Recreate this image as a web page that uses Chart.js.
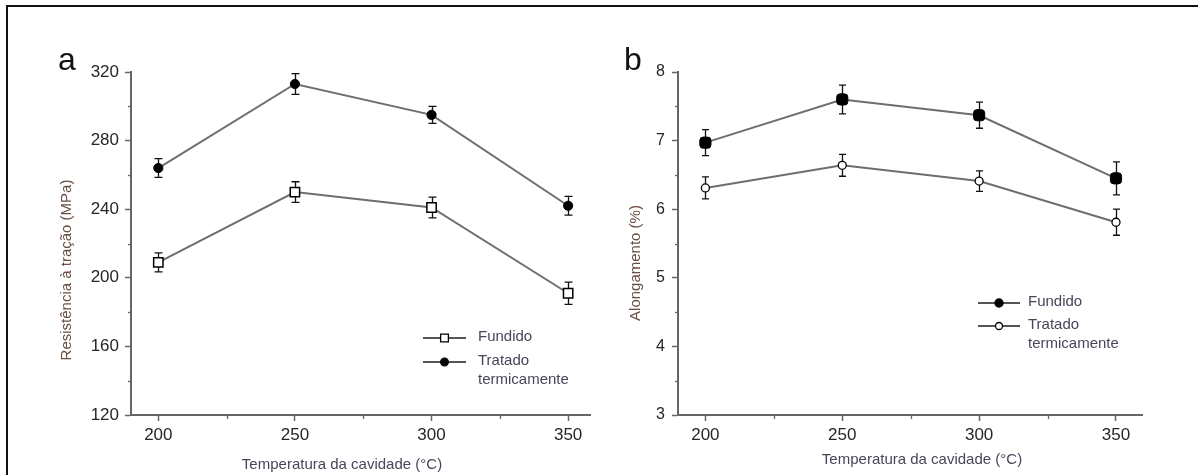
<!DOCTYPE html>
<html><head><meta charset="utf-8">
<script src="https://cdn.jsdelivr.net/npm/chart.js@4.4.1/dist/chart.umd.min.js"></script>
<style>
html,body{margin:0;padding:0;background:#fff;}
#wrap{position:relative;width:1198px;height:475px;overflow:hidden;background:#fff;}
#ca{position:absolute;left:0;top:0;}
#cb{position:absolute;left:599px;top:0;}
#frame{position:absolute;left:6px;top:5px;width:1200px;height:500px;border-top:2px solid #111;border-left:2px solid #111;pointer-events:none;}
</style></head><body>
<div id="wrap"><canvas id="ca" width="599" height="475"></canvas><canvas id="cb" width="599" height="475"></canvas><div id="frame"></div></div>
<script>
// ---- data ----
const temps = [200, 250, 300, 350];
const xTickValues = [200, 250, 300, 350];
const xMinorValues = [225, 275, 325];

const aFundido = [209, 250, 241, 191];
const aFundidoErr = [5.5, 6, 6, 6.5];
const aTratado = [264, 313, 295, 242];
const aTratadoErr = [5.5, 6, 5, 5.5];
const aYTicks = [120, 160, 200, 240, 280, 320];
const aYMinor = [140, 180, 220, 260, 300];

const bFundido = [6.97, 7.6, 7.37, 6.45];
const bFundidoErr = [0.19, 0.21, 0.19, 0.24];
const bTratado = [6.31, 6.64, 6.41, 5.81];
const bTratadoErr = [0.16, 0.16, 0.15, 0.19];
const bYTicks = [3, 4, 5, 6, 7, 8];
const bYMinor = [3.5, 4.5, 5.5, 6.5, 7.5];

const xTitle = 'Temperatura da cavidade (°C)';
const aYTitle = 'Resistência à tração (MPa)';
const bYTitle = 'Alongamento (%)';
const seriesNames = ['Fundido', 'Tratado', 'termicamente'];

const FONT = "'Liberation Sans', Arial, sans-serif";
const LINE = '#6e6e6e';
const AXIS = '#666';
const TXT = '#262626';

function pts(vals){ return temps.map((t,i)=>({x:t, y:vals[i]})); }

function drawMarker(ctx, style, r, fill, stroke, bw, x, y){
  ctx.save();
  ctx.fillStyle = fill; ctx.strokeStyle = stroke; ctx.lineWidth = bw;
  ctx.beginPath();
  if (style === 'rect') { const s = r*Math.SQRT1_2; ctx.rect(x-s, y-s, 2*s, 2*s); }
  else { ctx.arc(x, y, r, 0, Math.PI*2); }
  ctx.fill(); ctx.stroke();
  ctx.restore();
}

function makePlugin(cfg){
  return {
    id: 'extras_' + cfg.key,
    beforeDatasetsDraw(chart){
      const ctx = chart.ctx, xs = chart.scales.x, ys = chart.scales.y;
      ctx.save();
      ctx.strokeStyle = '#111'; ctx.lineWidth = 1.3;
      cfg.errors.forEach(e=>{
        temps.forEach((t,i)=>{
          const x = Math.round(xs.getPixelForValue(t))+0.5;
          const y1 = ys.getPixelForValue(e.vals[i]+e.err[i]);
          const y2 = ys.getPixelForValue(e.vals[i]-e.err[i]);
          ctx.beginPath();
          ctx.moveTo(x, y1); ctx.lineTo(x, y2);
          ctx.moveTo(x-e.cap, y1); ctx.lineTo(x+e.cap, y1);
          ctx.moveTo(x-e.cap, y2); ctx.lineTo(x+e.cap, y2);
          ctx.stroke();
        });
      });
      ctx.restore();
    },
    afterDraw(chart){
      const ctx = chart.ctx, xs = chart.scales.x, ys = chart.scales.y, ca = chart.chartArea;
      ctx.save();
      // minor ticks
      ctx.strokeStyle = AXIS; ctx.lineWidth = 1.3;
      xMinorValues.forEach(v=>{
        const x = Math.round(xs.getPixelForValue(v))+0.5;
        ctx.beginPath(); ctx.moveTo(x, ca.bottom); ctx.lineTo(x, ca.bottom+4); ctx.stroke();
      });
      cfg.yMinor.forEach(v=>{
        const y = Math.round(ys.getPixelForValue(v))+0.5;
        ctx.beginPath(); ctx.moveTo(ca.left-3, y); ctx.lineTo(ca.left, y); ctx.stroke();
      });
      // axis titles
      ctx.font = '15px ' + FONT;
      ctx.fillStyle = '#4a4558';
      ctx.textAlign = 'center'; ctx.textBaseline = 'middle';
      ctx.fillText(xTitle, cfg.xTitlePos[0], cfg.xTitlePos[1]);
      ctx.save();
      ctx.translate(cfg.yTitlePos[0], cfg.yTitlePos[1]);
      ctx.rotate(-Math.PI/2);
      ctx.fillStyle = '#6a4e42';
      ctx.fillText(cfg.yTitle, 0, 0);
      ctx.restore();
      // panel letter
      ctx.font = '32px ' + FONT;
      ctx.fillStyle = '#111';
      ctx.textAlign = 'left'; ctx.textBaseline = 'alphabetic';
      ctx.fillText(cfg.letter, cfg.letterPos[0], cfg.letterPos[1]);
      // legend
      const L = cfg.legend;
      ctx.font = '15px ' + FONT;
      ctx.textBaseline = 'middle';
      L.items.forEach(it=>{
        ctx.strokeStyle = '#555'; ctx.lineWidth = 2;
        ctx.beginPath(); ctx.moveTo(L.x0, it.y); ctx.lineTo(L.x1, it.y); ctx.stroke();
        drawMarker(ctx, it.style, it.r, it.fill, '#000', 1.3, (L.x0+L.x1)/2, it.y);
        ctx.fillStyle = '#4a4558';
        it.lines.forEach((s,k)=>ctx.fillText(s, L.tx, it.y - 1 + k*18.5));
      });
      ctx.restore();
    }
  };
}

function axes(cfg){
  return {
    x: {
      type: 'linear', min: 190, max: cfg.xMax,
      afterBuildTicks: s => { s.ticks = xTickValues.map(v=>({value:v})); },
      ticks: { font:{family:FONT, size:17}, color:TXT, padding:4, maxRotation:0, autoSkip:false,
               callback: v => String(v) },
      grid: { drawOnChartArea:false, drawTicks:true, tickLength:6, tickColor:AXIS, tickWidth:1.5 },
      border: { color:AXIS, width:2 },
      afterFit: s => { s.height = 60; }
    },
    y: {
      type: 'linear', min: cfg.yMin, max: cfg.yMax,
      afterBuildTicks: s => { s.ticks = cfg.yTicks.map(v=>({value:v})); },
      ticks: { font:{family:FONT, size:cfg.yFont}, color:TXT, padding:cfg.yPad, autoSkip:false,
               callback: v => String(v) },
      grid: { drawOnChartArea:false, drawTicks:true, tickLength:6, tickColor:AXIS, tickWidth:1.5 },
      border: { color:AXIS, width:2 },
      afterFit: s => { s.width = cfg.yWidth; }
    }
  };
}

const common = {
  responsive:false, animation:false, devicePixelRatio:1,
  plugins:{ legend:{display:false}, tooltip:{enabled:false} },
};

// ---- panel a ----
new Chart(document.getElementById('ca'), {
  type:'scatter',
  data:{ datasets:[
    { label:seriesNames[0], data:pts(aFundido), showLine:true, borderColor:LINE, borderWidth:2,
      pointStyle:'rect', pointRadius:6.6, pointBackgroundColor:'#fff', pointBorderColor:'#000', pointBorderWidth:1.5 },
    { label:seriesNames[1]+' '+seriesNames[2], data:pts(aTratado), showLine:true, borderColor:LINE, borderWidth:2,
      pointStyle:'circle', pointRadius:4.6, pointBackgroundColor:'#000', pointBorderColor:'#000', pointBorderWidth:1 }
  ]},
  options:Object.assign({}, common, {
    layout:{ padding:{top:72, right:9, bottom:0, left:0} },
    scales: axes({xMax:358, yMin:120, yMax:320, yTicks:aYTicks, yFont:17, yPad:6, yWidth:131})
  }),
  plugins:[ makePlugin({
    key:'a',
    errors:[ {vals:aFundido, err:aFundidoErr, cap:4}, {vals:aTratado, err:aTratadoErr, cap:4} ],
    yMinor:aYMinor, yTitle:aYTitle,
    xTitlePos:[342, 465], yTitlePos:[67, 270],
    letter:'a', letterPos:[58, 70],
    legend:{ x0:423, x1:466, tx:478, items:[
      {y:338, style:'rect', r:5.5, fill:'#fff', lines:[seriesNames[0]]},
      {y:362, style:'circle', r:3.8, fill:'#000', lines:[seriesNames[1], seriesNames[2]]}
    ]}
  }) ]
});

// ---- panel b ----
new Chart(document.getElementById('cb'), {
  type:'scatter',
  data:{ datasets:[
    { label:seriesNames[0], data:pts(bFundido), showLine:true, borderColor:LINE, borderWidth:2,
      pointStyle:'rectRounded', pointRadius:6.5, pointBackgroundColor:'#000', pointBorderColor:'#000', pointBorderWidth:1 },
    { label:seriesNames[1]+' '+seriesNames[2], data:pts(bTratado), showLine:true, borderColor:LINE, borderWidth:2,
      pointStyle:'circle', pointRadius:4, pointBackgroundColor:'#fff', pointBorderColor:'#000', pointBorderWidth:1.3 }
  ]},
  options:Object.assign({}, common, {
    layout:{ padding:{top:72, right:56, bottom:0, left:0} },
    scales: axes({xMax:359.5, yMin:3, yMax:8, yTicks:bYTicks, yFont:16, yPad:7, yWidth:79})
  }),
  plugins:[ makePlugin({
    key:'b',
    errors:[ {vals:bFundido, err:bFundidoErr, cap:3.5}, {vals:bTratado, err:bTratadoErr, cap:3.5} ],
    yMinor:bYMinor, yTitle:bYTitle,
    xTitlePos:[323, 460], yTitlePos:[37, 263],
    letter:'b', letterPos:[25, 70],
    legend:{ x0:379, x1:421, tx:429, items:[
      {y:303, style:'circle', r:4, fill:'#000', lines:[seriesNames[0]]},
      {y:326, style:'circle', r:3.5, fill:'#fff', lines:[seriesNames[1], seriesNames[2]]}
    ]}
  }) ]
});
</script>
</body></html>
